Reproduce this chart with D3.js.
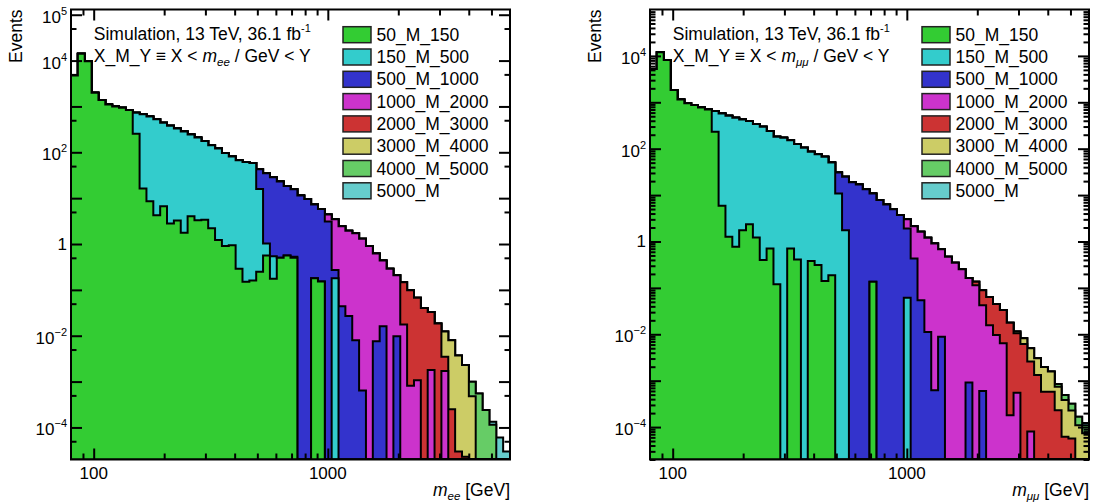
<!doctype html>
<html>
<head>
<meta charset="utf-8">
<title>DY mass slices</title>
<style>
  body { margin: 0; background: #fff; }
  svg { font-family: "Liberation Sans", Arial, Helvetica, sans-serif; }
</style>
</head>
<body>
<svg width="1094" height="504"></svg>
<script src="https://d3js.org/d3.v7.min.js"></script>
<script>

// mass slices, bottom of the stack first
var samples = ["50_M_150", "150_M_500", "500_M_1000", "1000_M_2000",
               "2000_M_3000", "3000_M_4000", "4000_M_5000", "5000_M"];
var colors = ["#33cc33", "#33cccc", "#3333cc", "#cc33cc",
              "#cc3333", "#cccc66", "#66cc66", "#66cccc"];

// 64 log bins, 80 - 6000 GeV
var binLo = 80, binHi = 6000, nBins = 64;

// ---- electrons: events per bin ----
var ee_50_150 = [
  4730, 14060, 9730, 1980, 1380, 1100, 1000, 935,
  840, 253, 16.2, 8.6, 4.25, 6.7, 2.8, 3.26,
  1.75, 4.05, 3.3, 3.4, 2.2, 1.23, 0.90, 0.94,
  0.29, 0.15, 0.16, 0.247, 0.56, 0.174, 0.50, 0.56,
  0.50, 0, 0, 0.18, 0.152, 0, 0, 0,
  0, 0, 0, 0, 0, 0, 0, 0,
  0, 0, 0, 0, 0, 0, 0, 0,
  0, 0, 0, 0, 0, 0, 0, 0];
var ee_150_500 = [
  0, 0, 0, 0, 0, 0, 0, 0,
  0, 473, 656, 598, 519, 433, 377, 328,
  283, 241, 208, 172, 140, 120, 96, 80,
  67, 61, 58, 15.6, 0.46, 0.37, 0, 0,
  0.03, 0, 0, 0, 0, 0, 0.18, 0,
  0, 0, 0, 0, 0, 0, 0, 0,
  0, 0, 0, 0, 0, 0, 0, 0,
  0, 0, 0, 0, 0, 0, 0, 0];
var ee_500_1000 = [
  0, 0, 0, 0, 0, 0, 0, 0,
  0, 0, 0, 0, 0, 0, 0, 0,
  0, 0, 0, 0, 0, 0, 0, 0,
  0, 0, 0, 27, 34, 28, 22.7, 17.9,
  15.1, 11.4, 9.6, 7.1, 5.65, 3.1, 0.09, 0.044,
  0.027, 0.008, 0.00064, 0, 0.0076, 0.016, 0, 0.0097,
  0, 0, 0, 0, 0, 0, 0, 0,
  0, 0, 0, 0, 0, 0, 0, 0];
var ee_1000_2000 = [
  0, 0, 0, 0, 0, 0, 0, 0,
  0, 0, 0, 0, 0, 0, 0, 0,
  0, 0, 0, 0, 0, 0, 0, 0,
  0, 0, 0, 0, 0, 0, 0, 0,
  0, 0, 0, 0, 0, 1.3, 3.18, 2.4,
  1.92, 1.7, 1.3, 0.9, 0.61, 0.42, 0.29, 0.2,
  0.0175, 0.00081, 0.00107, 0, 0.0018, 0, 0.0017, 0,
  0, 0, 0, 0, 0, 0, 0, 0];
var ee_2000_3000 = [
  0, 0, 0, 0, 0, 0, 0, 0,
  0, 0, 0, 0, 0, 0, 0, 0,
  0, 0, 0, 0, 0, 0, 0, 0,
  0, 0, 0, 0, 0, 0, 0, 0,
  0, 0, 0, 0, 0, 0, 0, 0,
  0, 0, 0, 0, 0, 0, 0, 0,
  0.13, 0.097, 0.066, 0.040, 0.031, 0.0184, 0.0018, 0.00025,
  0.00003, 0.000023, 0, 0, 0, 0, 0, 0];
var ee_3000_4000 = [
  0, 0, 0, 0, 0, 0, 0, 0,
  0, 0, 0, 0, 0, 0, 0, 0,
  0, 0, 0, 0, 0, 0, 0, 0,
  0, 0, 0, 0, 0, 0, 0, 0,
  0, 0, 0, 0, 0, 0, 0, 0,
  0, 0, 0, 0, 0, 0, 0, 0,
  0, 0, 0, 0, 0, 0, 0.0089, 0.00775,
  0.00367, 0.00228, 0.00048, 0, 0, 0, 0, 0];
var ee_4000_5000 = [
  0, 0, 0, 0, 0, 0, 0, 0,
  0, 0, 0, 0, 0, 0, 0, 0,
  0, 0, 0, 0, 0, 0, 0, 0,
  0, 0, 0, 0, 0, 0, 0, 0,
  0, 0, 0, 0, 0, 0, 0, 0,
  0, 0, 0, 0, 0, 0, 0, 0,
  0, 0, 0, 0, 0, 0, 0, 0,
  0, 0, 0.00051, 0.00055, 0.00024, 0.000115, 0, 0];
var ee_5000 = [
  0, 0, 0, 0, 0, 0, 0, 0,
  0, 0, 0, 0, 0, 0, 0, 0,
  0, 0, 0, 0, 0, 0, 0, 0,
  0, 0, 0, 0, 0, 0, 0, 0,
  0, 0, 0, 0, 0, 0, 0, 0,
  0, 0, 0, 0, 0, 0, 0, 0,
  0, 0, 0, 0, 0, 0, 0, 0,
  0, 0, 0, 0, 0, 0.000018, 0.00006, 0.00003];

// ---- muons: events per bin ----
var mm_50_150 = [
  5200, 11940, 8130, 1840, 1155, 948, 872, 777,
  703, 232, 5.9, 1.26, 0.77, 1.75, 2.36, 1.22,
  0.40, 0.71, 0.12, 0, 0.71, 0.41, 0, 0.38,
  0.31, 0.141, 0.187, 0, 0, 0, 0, 0,
  0.135, 0, 0, 0, 0, 0, 0, 0,
  0, 0, 0, 0, 0, 0, 0, 0,
  0, 0, 0, 0, 0, 0, 0, 0,
  0, 0, 0, 0, 0, 0, 0, 0];
var mm_150_500 = [
  0, 0, 0, 0, 0, 0, 0, 0,
  0, 414, 569, 513, 464, 426, 392, 338,
  297, 239, 181, 172, 152, 126, 105, 86,
  76, 67, 50.5, 10.8, 1.75, 0, 0, 0,
  0, 0, 0, 0, 0, 0.061, 0, 0,
  0, 0, 0, 0, 0, 0, 0, 0,
  0, 0, 0, 0, 0, 0, 0, 0,
  0, 0, 0, 0, 0, 0, 0, 0];
var mm_500_1000 = [
  0, 0, 0, 0, 0, 0, 0, 0,
  0, 0, 0, 0, 0, 0, 0, 0,
  0, 0, 0, 0, 0, 0, 0, 0,
  0, 0, 0, 20, 23, 19, 16.9, 13.4,
  10.7, 7.8, 6.3, 4.98, 3.7, 1.84, 0.43, 0.054,
  0.0112, 0.00062, 0.0088, 0, 0, 0, 0.00091, 0,
  0.0006, 0, 0, 0, 0, 0, 0, 0,
  0, 0, 0, 0, 0, 0, 0, 0];
var mm_1000_2000 = [
  0, 0, 0, 0, 0, 0, 0, 0,
  0, 0, 0, 0, 0, 0, 0, 0,
  0, 0, 0, 0, 0, 0, 0, 0,
  0, 0, 0, 0, 0, 0, 0, 0,
  0, 0, 0, 0, 0, 1.13, 1.71, 1.56,
  1.19, 0.90, 0.67, 0.466, 0.346, 0.252, 0.163, 0.114,
  0.0414, 0.0157, 0.0097, 0.0064, 0.00018, 0.00055, 0, 0.00008,
  0, 0, 0, 0, 0, 0, 0, 0];
var mm_2000_3000 = [
  0, 0, 0, 0, 0, 0, 0, 0,
  0, 0, 0, 0, 0, 0, 0, 0,
  0, 0, 0, 0, 0, 0, 0, 0,
  0, 0, 0, 0, 0, 0, 0, 0,
  0, 0, 0, 0, 0, 0, 0, 0,
  0, 0, 0, 0, 0, 0, 0, 0.021,
  0.047, 0.048, 0.035, 0.027, 0.0176, 0.0100, 0.0062, 0.0025,
  0.00133, 0.00058, 0.00058, 0.00023, 0.000062, 0.000057, 0, 0];
var mm_3000_4000 = [
  0, 0, 0, 0, 0, 0, 0, 0,
  0, 0, 0, 0, 0, 0, 0, 0,
  0, 0, 0, 0, 0, 0, 0, 0,
  0, 0, 0, 0, 0, 0, 0, 0,
  0, 0, 0, 0, 0, 0, 0, 0,
  0, 0, 0, 0, 0, 0, 0, 0,
  0, 0, 0, 0, 0, 0.0009, 0.002, 0.0024,
  0.0017, 0.0014, 0.001, 0.00051, 0.00032, 0.00017, 0.00011, 0.000074];
var mm_4000_5000 = [
  0, 0, 0, 0, 0, 0, 0, 0,
  0, 0, 0, 0, 0, 0, 0, 0,
  0, 0, 0, 0, 0, 0, 0, 0,
  0, 0, 0, 0, 0, 0, 0, 0,
  0, 0, 0, 0, 0, 0, 0, 0,
  0, 0, 0, 0, 0, 0, 0, 0,
  0, 0, 0, 0, 0, 0, 0, 0,
  0, 0, 0, 0.00011, 0.00011, 0.00009, 0.000057, 0.000036];
var mm_5000 = [
  0, 0, 0, 0, 0, 0, 0, 0,
  0, 0, 0, 0, 0, 0, 0, 0,
  0, 0, 0, 0, 0, 0, 0, 0,
  0, 0, 0, 0, 0, 0, 0, 0,
  0, 0, 0, 0, 0, 0, 0, 0,
  0, 0, 0, 0, 0, 0, 0, 0,
  0, 0, 0, 0, 0, 0, 0, 0,
  0, 0, 0, 0, 0, 0, 0, 0.000012];

// axis ticks / labels
var xMajor = [100, 1000];
var xMinor = [90, 200, 300, 400, 500, 600, 700, 800, 900, 2000, 3000, 4000, 5000];
var eeYLabelExp = [5, 4, 2, 0, -2, -4];
var mmYLabelExp = [4, 2, 0, -2, -4];


var svg = d3.select("svg");
var W = 439, H = 450;

var edges = d3.range(nBins + 1).map(function(i) {
  return binLo * Math.pow(binHi / binLo, i / nBins);
});

function drawPanel(opt) {
  var g = svg.append("g").attr("transform", "translate(" + opt.left + ",9.5)");

  var x = d3.scaleLog().domain([binLo, binHi]).range([0, W]);
  var y = d3.scaleLog().domain(opt.yDomain).range([H, 0]);
  var yMin = opt.yDomain[0];

  var rows = d3.range(nBins).map(function(k) {
    var r = {};
    samples.forEach(function(s, j) { r[s] = opt.series[j][k]; });
    return r;
  });
  var stacked = d3.stack().keys(samples)(rows);

  var clipId = "clip-" + opt.name;
  g.append("clipPath").attr("id", clipId)
    .append("rect").attr("width", W).attr("height", H);

  var line = d3.line()
      .x(function(p) { return x(p[0]); })
      .y(function(p) { return p[1] > yMin ? y(p[1]) : H; });

  var layers = g.append("g").attr("clip-path", "url(#" + clipId + ")");

  // cumulative histograms, largest sum first
  for (var j = samples.length - 1; j >= 0; j--) {
    var pts = [[edges[0], 0]];
    stacked[j].forEach(function(d, k) {
      pts.push([edges[k], d[1]]);
      pts.push([edges[k + 1], d[1]]);
    });
    pts.push([edges[nBins], 0]);
    layers.append("path")
      .attr("d", line(pts) + "Z")
      .attr("fill", colors[j])
      .attr("stroke", "#000")
      .attr("stroke-width", 2)
      .attr("stroke-linejoin", "miter");
  }

  // ticks on all four sides, pointing in
  function ticks(axis, tr) {
    g.append("g").attr("transform", tr).call(axis)
      .call(function(s) {
        s.select(".domain").remove();
        s.selectAll("text").remove();
        s.selectAll("line").attr("stroke-width", 2);
      });
  }
  ticks(d3.axisBottom(x).tickValues(xMajor).tickSize(-11).tickFormat(""), "translate(0," + H + ")");
  ticks(d3.axisBottom(x).tickValues(xMinor).tickSize(-6).tickFormat(""), "translate(0," + H + ")");
  ticks(d3.axisTop(x).tickValues(xMajor).tickSize(-11).tickFormat(""), "translate(0,0)");
  ticks(d3.axisTop(x).tickValues(xMinor).tickSize(-6).tickFormat(""), "translate(0,0)");
  ticks(d3.axisLeft(y).tickValues(opt.yMajor).tickSize(-11).tickFormat(""), "translate(0,0)");
  ticks(d3.axisLeft(y).tickValues(opt.yMinor).tickSize(-5.5).tickFormat(""), "translate(0,0)");
  ticks(d3.axisRight(y).tickValues(opt.yMajor).tickSize(-11).tickFormat(""), "translate(" + W + ",0)");
  ticks(d3.axisRight(y).tickValues(opt.yMinor).tickSize(-5.5).tickFormat(""), "translate(" + W + ",0)");

  g.append("rect").attr("width", W).attr("height", H)
    .attr("fill", "none").attr("stroke", "#000").attr("stroke-width", 2);

  // x tick labels
  xMajor.forEach(function(v) {
    g.append("text").attr("x", x(v)).attr("y", H + 19)
      .attr("text-anchor", "middle").attr("font-size", 17).text(v);
  });

  // y tick labels
  opt.yLabels.forEach(function(p) {
    var t = g.append("text").attr("x", -4).attr("text-anchor", "end").attr("font-size", 17);
    if (p === 0) {
      t.attr("y", y(1) + 6).text("1");
    } else {
      t.attr("y", y(Math.pow(10, p)) + 8);
      t.append("tspan").text("10");
      t.append("tspan").attr("dy", -8).attr("font-size", 11)
        .text(p < 0 ? "\u2212" + (-p) : p);
    }
  });

  // axis titles
  g.append("text").attr("transform", "translate(-49,0) rotate(-90)")
    .attr("text-anchor", "end").attr("font-size", 17.5).text("Events");

  var xt = g.append("text").attr("x", W).attr("y", H + 36.5)
    .attr("text-anchor", "end").attr("font-size", 17.5);
  xt.append("tspan").attr("font-style", "italic").text("m");
  xt.append("tspan").attr("font-style", "italic").attr("font-size", 11.5).attr("dy", 4).text(opt.sub);
  xt.append("tspan").attr("dy", -4).text(" [GeV]");

  // header
  var t1 = g.append("text").attr("x", 22.8).attr("y", 30.5).attr("font-size", 17.5);
  t1.append("tspan").text("Simulation, 13 TeV, 36.1 fb");
  t1.append("tspan").attr("dy", -8).attr("font-size", 11).text("-1");

  var t2 = g.append("text").attr("x", 22.8).attr("y", 52.8).attr("font-size", 17.5);
  t2.append("tspan").text("X_M_Y \u2261 X < ");
  t2.append("tspan").attr("font-style", "italic").text("m");
  t2.append("tspan").attr("font-style", "italic").attr("font-size", 11.5).attr("dy", 4).text(opt.sub);
  t2.append("tspan").attr("dy", -4).text(" / GeV < Y");

  // legend
  var leg = g.append("g");
  samples.forEach(function(s, i) {
    leg.append("rect")
      .attr("x", 272).attr("y", 17.2 + 22.3 * i)
      .attr("width", 28).attr("height", 16)
      .attr("fill", colors[i]).attr("stroke", "#222").attr("stroke-width", 1.5);
    leg.append("text")
      .attr("x", 305.5).attr("y", 31.2 + 22.3 * i)
      .attr("font-size", 17.5).text(s);
  });
}

var eeYMajor = [], mmYMajor = [], eeYMinor = [], mmYMinor = [];
for (var n = -5; n <= 5; n++) {
  var p10 = Math.pow(10, n);
  if (p10 >= 2e-5) { eeYMajor.push(p10); mmYMajor.push(p10); }
  if (5 * p10 >= 2e-5 && 5 * p10 <= 1.3e5) eeYMinor.push(5 * p10);
  for (var d = 2; d <= 9; d++) {
    if (d * p10 >= 2e-5 && d * p10 < 1e5) mmYMinor.push(d * p10);
  }
}

drawPanel({
  name: "ee", left: 71, yDomain: [2e-5, 1.3e5], sub: "ee",
  series: [ee_50_150, ee_150_500, ee_500_1000, ee_1000_2000,
           ee_2000_3000, ee_3000_4000, ee_4000_5000, ee_5000],
  yLabels: eeYLabelExp, yMajor: eeYMajor.filter(function(v) { return v <= 1.3e5; }),
  yMinor: eeYMinor
});

drawPanel({
  name: "mm", left: 650, yDomain: [2e-5, 1e5], sub: "\u03bc\u03bc",
  series: [mm_50_150, mm_150_500, mm_500_1000, mm_1000_2000,
           mm_2000_3000, mm_3000_4000, mm_4000_5000, mm_5000],
  yLabels: mmYLabelExp, yMajor: mmYMajor.filter(function(v) { return v < 1e5; }),
  yMinor: mmYMinor
});

</script>
</body>
</html>
